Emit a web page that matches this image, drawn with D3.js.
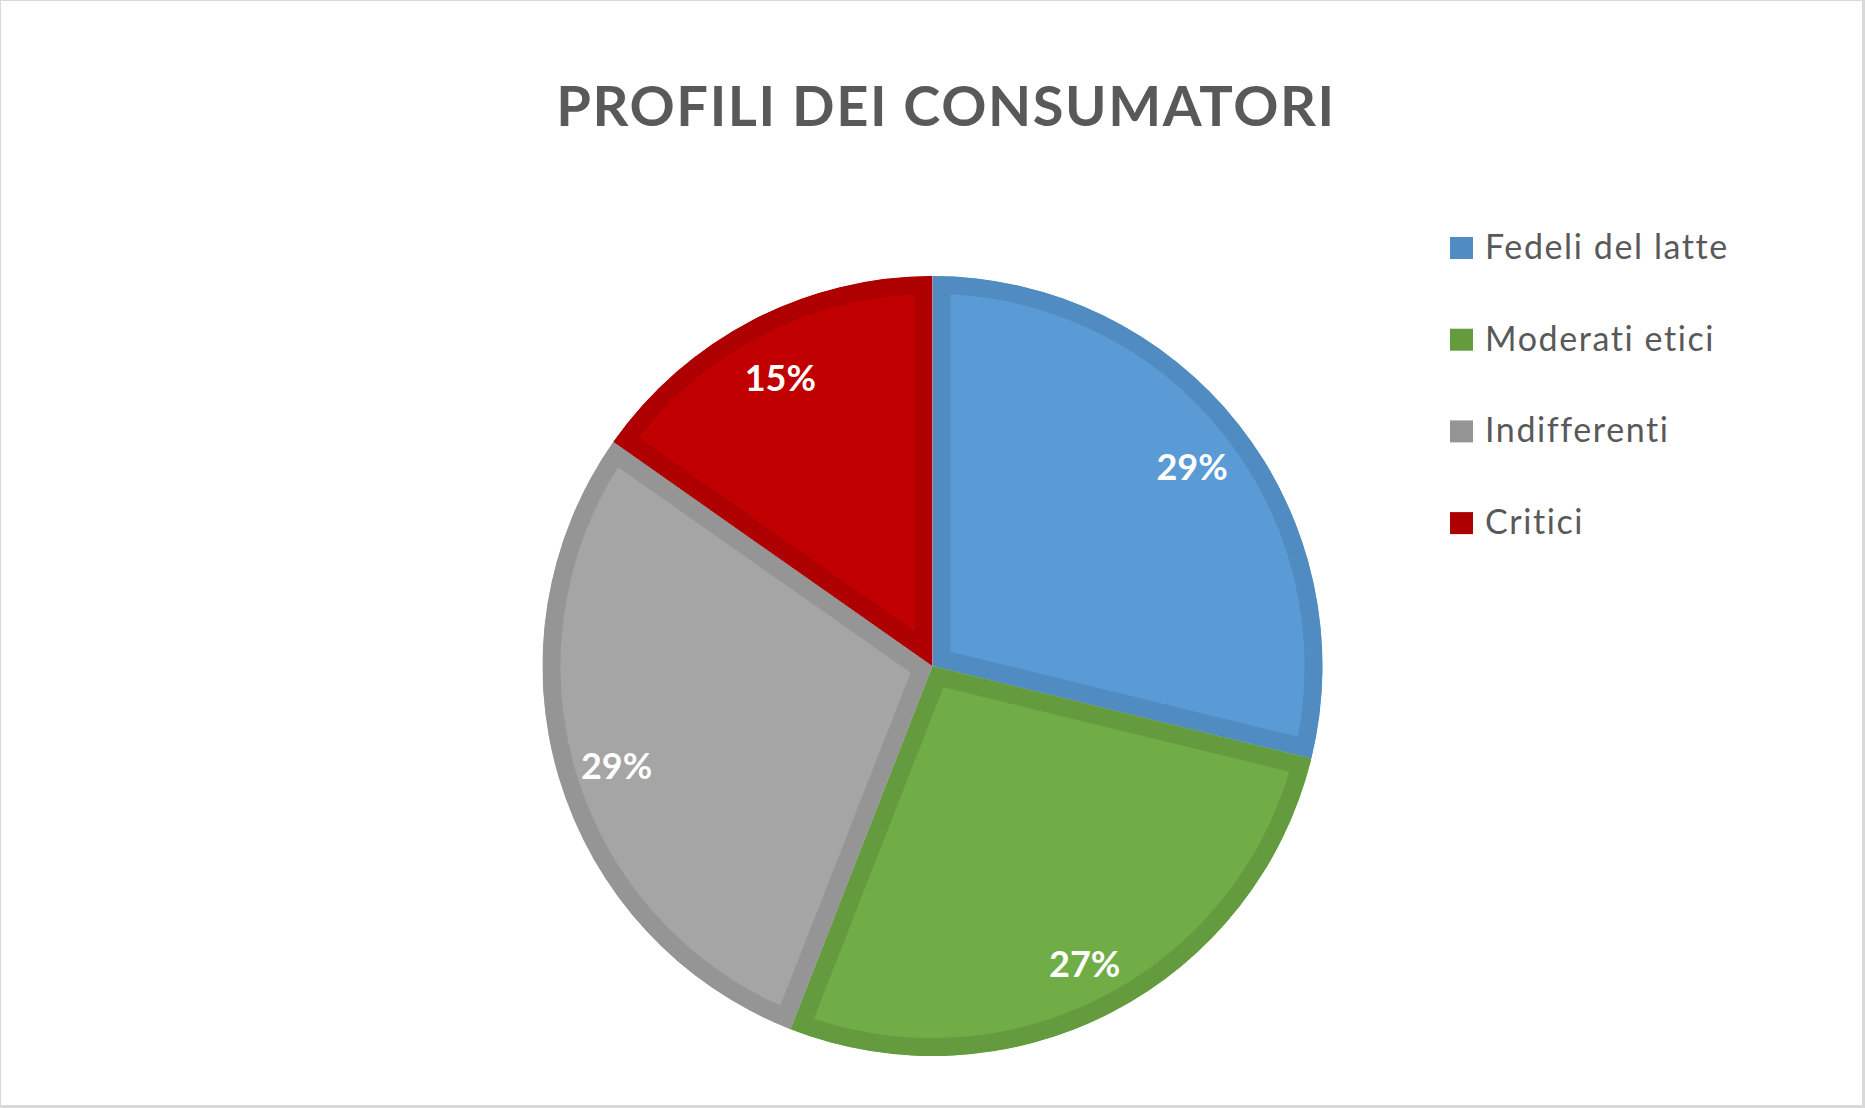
<!DOCTYPE html>
<html>
<head>
<meta charset="utf-8">
<script src="https://cdn.jsdelivr.net/npm/d3@7"></script>
<style>
  html, body { margin: 0; padding: 0; background: #fff; }
  svg { display: block; }
  text { font-variant-ligatures: none; font-feature-settings: "liga" 0, "clig" 0; }
</style>
</head>
<body>
<div id="chart"></div>
<script>
// data
var categories = ["Fedeli del latte", "Moderati etici", "Indifferenti", "Critici"];
var values = [17, 16, 17, 9];
var fillColors = ["#5B9BD5", "#70AD47", "#A5A5A5", "#C00000"];
var edgeColors = ["#508BC1", "#649B3F", "#959595", "#AE0000"];
var chartTitle = "PROFILI DEI CONSUMATORI";

var w = 1865,
    h = 1108;

var svg = d3.select("#chart")
    .append("svg")
    .attr("width", w)
    .attr("height", h);

// chart border
svg.append("rect")
    .attr("width", w)
    .attr("height", h)
    .attr("fill", "#D9D9D9");
svg.append("rect")
    .attr("x", 1)
    .attr("y", 1)
    .attr("width", w - 4)
    .attr("height", h - 4)
    .attr("fill", "#fff");

svg.append("text")
    .attr("x", 946)
    .attr("y", 126)
    .attr("text-anchor", "middle")
    .attr("font-family", "Lato, 'Open Sans', sans-serif")
    .attr("font-weight", "bold")
    .attr("font-size", 56)
    .attr("letter-spacing", 1.6)
    .attr("fill", "#595959")
    .text(chartTitle);

var cx = 932.5,
    cy = 666,
    radius = 390;

var total = d3.sum(values);

var pie = d3.pie()
    .sort(null)
    .value(function (d) { return d; });

var arc = d3.arc()
    .innerRadius(0)
    .outerRadius(radius);

var labelArc = d3.arc()
    .innerRadius(330)
    .outerRadius(330);

var arcs = pie(values);

var g = svg.append("g")
    .attr("transform", "translate(" + cx + "," + cy + ")");

var defs = svg.append("defs");
defs.selectAll("clipPath")
    .data(arcs)
    .enter().append("clipPath")
    .attr("id", function (d, i) { return "slice" + i; })
    .append("path")
    .attr("d", arc);

// each slice keeps its darker edge inside its own outline
g.selectAll("path.slice")
    .data(arcs)
    .enter().append("path")
    .attr("class", "slice")
    .attr("d", arc)
    .attr("fill", function (d, i) { return fillColors[i]; })
    .attr("stroke", function (d, i) { return edgeColors[i]; })
    .attr("stroke-width", 36)
    .attr("stroke-linejoin", "miter")
    .attr("clip-path", function (d, i) { return "url(#slice" + i + ")"; });

g.selectAll("text.lbl")
    .data(arcs)
    .enter().append("text")
    .attr("class", "lbl")
    .attr("transform", function (d) {
        var c = labelArc.centroid(d);
        return "translate(" + c[0] + "," + (c[1] + 5) + ")";
    })
    .attr("text-anchor", "middle")
    .attr("dy", "0.36em")
    .attr("font-family", "Lato, 'Open Sans', sans-serif")
    .attr("font-weight", "bold")
    .attr("font-size", 36)
    .attr("fill", "#fff")
    .text(function (d) { return Math.round(d.value / total * 100) + "%"; });

// legend
var legend = svg.append("g")
    .attr("transform", "translate(1450,248)");

var rows = legend.selectAll("g")
    .data(categories)
    .enter().append("g")
    .attr("transform", function (d, i) { return "translate(0," + (i * 91.7) + ")"; });

rows.append("rect")
    .attr("x", 0)
    .attr("y", -11)
    .attr("width", 23)
    .attr("height", 22)
    .attr("fill", function (d, i) { return edgeColors[i]; });

rows.append("text")
    .attr("x", 35)
    .attr("y", 11)
    .attr("font-family", "Lato, 'Open Sans', sans-serif")
    .attr("font-size", 34)
    .attr("letter-spacing", 1.6)
    .attr("fill", "#595959")
    .text(function (d) { return d; });
</script>
</body>
</html>
